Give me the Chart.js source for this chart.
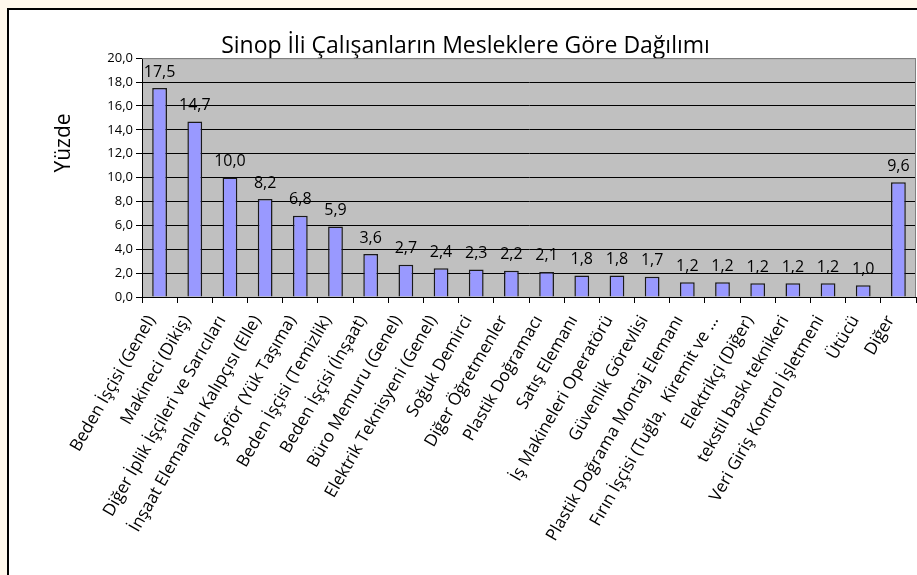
<!DOCTYPE html>
<html><head><meta charset="utf-8">
<script src="https://cdn.jsdelivr.net/npm/chart.js@4/dist/chart.umd.min.js"></script>
<style>
html,body{margin:0;padding:0;background:#fff8ec;width:917px;height:575px;overflow:hidden}
#frame{position:absolute;left:7px;top:8px;width:940px;height:600px;background:#fff;border-left:2px solid #000;border-top:2px solid #000;box-sizing:border-box}
#wrap{position:absolute;left:0;top:0;width:917px;height:575px}
</style></head><body>
<div id="frame"></div>
<div id="wrap"><canvas id="c" width="917" height="575"></canvas></div>
<script>
const chartTitle = 'Sinop İli Çalışanların Mesleklere Göre Dağılımı';
const yAxisTitle = 'Yüzde';
const categories = [
  'Beden İşçisi (Genel)',
  'Makineci (Dikiş)',
  'Diğer İplik İşçileri ve Sarıcıları',
  'İnşaat Elemanları Kalıpçısı (Elle)',
  'Şoför (Yük Taşıma)',
  'Beden İşçisi (Temizlik)',
  'Beden İşçisi (İnşaat)',
  'Büro Memuru (Genel)',
  'Elektrik Teknisyeni (Genel)',
  'Soğuk Demirci',
  'Diğer Öğretmenler',
  'Plastik Doğramacı',
  'Satış Elemanı',
  'İş Makineleri Operatörü',
  'Güvenlik Görevlisi',
  'Plastik Doğrama Montaj Elemanı',
  'Fırın İşçisi (Tuğla,  Kiremit ve ...',
  'Elektrikçi (Diğer)',
  'tekstil baskı teknikeri',
  'Veri Giriş Kontrol İşletmeni',
  'Ütücü',
  'Diğer'
];
const values = [17.5, 14.7, 10.0, 8.2, 6.8, 5.9, 3.6, 2.7, 2.4, 2.3, 2.2, 2.1, 1.8, 1.8, 1.7, 1.24, 1.24, 1.16, 1.16, 1.16, 0.98, 9.6];
const yMin = 0, yMax = 20, yStep = 2;

const FONT = "'Open Sans', 'Noto Sans', sans-serif";
const fmt = v => Number(v).toFixed(1).replace('.', ',');

const decor = {
  id: 'decor',
  beforeDraw(chart) {
    const {ctx, chartArea: a} = chart;
    ctx.save();
    ctx.fillStyle = '#c0c0c0';
    ctx.fillRect(a.left, a.top, a.right - a.left, a.bottom - a.top);
    ctx.restore();
  },
  afterDraw(chart) {
    const {ctx, chartArea: a} = chart;
    ctx.save();
    ctx.strokeStyle = '#808080';
    ctx.lineWidth = 1;
    ctx.beginPath();
    ctx.moveTo(a.left, a.top + 0.5);
    ctx.lineTo(a.right - 0.5, a.top + 0.5);
    ctx.lineTo(a.right - 0.5, a.bottom);
    ctx.stroke();
    // data labels
    const meta = chart.getDatasetMeta(0);
    ctx.fillStyle = '#000';
    ctx.font = '16px ' + FONT;
    ctx.textAlign = 'center';
    ctx.textBaseline = 'middle';
    meta.data.forEach((bar, i) => {
      ctx.fillText(fmt(values[i]), bar.x, bar.y - 16);
    });
    // y axis title
    ctx.font = '21px ' + FONT;
    ctx.translate(64, 143);
    ctx.rotate(-Math.PI / 2);
    ctx.fillText(yAxisTitle, 0, 0);
    ctx.restore();
  }
};

new Chart(document.getElementById('c'), {
  type: 'bar',
  data: {
    labels: categories,
    datasets: [{
      data: values,
      backgroundColor: '#9999ff',
      borderColor: '#1a1a1a',
      borderWidth: 1.5,
      borderSkipped: 'bottom',
      categoryPercentage: 1,
      barPercentage: 0.42
    }]
  },
  options: {
    responsive: false,
    animation: false,
    devicePixelRatio: 1,
    layout: {padding: {left: 15, right: 1, top: 0, bottom: 0}},
    plugins: {
      legend: {display: false},
      tooltip: {enabled: false},
      title: {
        display: true,
        text: chartTitle,
        color: '#000',
        font: {family: FONT, size: 23, weight: 'normal', lineHeight: 1.05},
        padding: {top: 34, bottom: 0}
      }
    },
    scales: {
      x: {
        offset: true,
        grid: {display: true, offset: true, drawOnChartArea: false, drawTicks: true, tickLength: 6, color: '#000', tickColor: '#000'},
        border: {display: true, color: '#000', width: 1},
        ticks: {color: '#000', font: {family: FONT, size: 17}, minRotation: 60, maxRotation: 60, autoSkip: false, padding: 9, labelOffset: -8},
        afterFit(scale) { scale.height = 278; scale.paddingLeft = 0; scale.paddingRight = 0; }
      },
      y: {
        min: yMin, max: yMax,
        grid: {color: c => (c.tick && c.tick.value === yMax) ? '#808080' : '#000', tickColor: '#000', tickLength: 6, lineWidth: 1},
        border: {display: true, color: '#000', width: 1},
        ticks: {stepSize: yStep, color: '#000', font: {family: FONT, size: 13}, padding: 3, callback: v => fmt(v)},
        afterFit(scale) { scale.width = 127; }
      }
    }
  },
  plugins: [decor]
});
</script>
</body></html>
